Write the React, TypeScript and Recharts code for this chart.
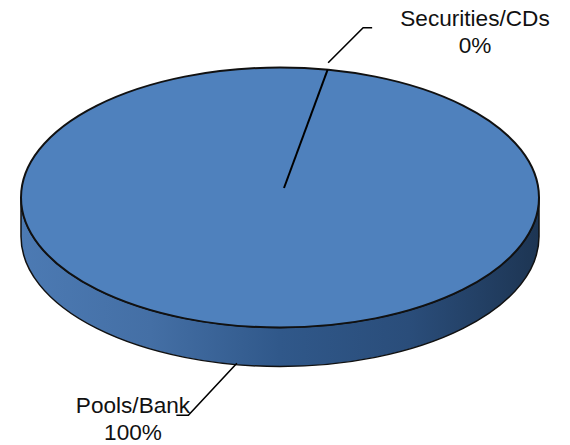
import React from 'react';
import { PieChart, Pie } from 'recharts';

const categories = ['Pools/Bank', 'Securities/CDs'];
const shares = [100, 0];

const chartData = categories.map((name, i) => ({ name, value: shares[i] }));

// Tilted disc: the pie's circle is squashed into this ellipse
const RADIUS_X = 259;
const RADIUS_Y = 130;
const SQUASH = RADIUS_Y / RADIUS_X;
const DEPTH = 39;
// Perspective moves the visual apex away from the ellipse centre
const APEX_DX = 4;
const APEX_DY = -9.5;

const FONT = '"Liberation Sans", Arial, sans-serif';

const rad = (deg: number) => (deg * Math.PI) / 180;

const rimPoint = (cx: number, cy: number, angle: number) => ({
  x: cx + RADIUS_X * Math.cos(rad(angle)),
  y: cy - RADIUS_Y * Math.sin(rad(angle)),
});

const DiscSector = (props: any) => {
  const { cx, cy, startAngle, endAngle, fill } = props;
  // A zero share has no area, only its edge line
  if (Math.abs(endAngle - startAngle) < 0.01) {
    const rim = rimPoint(cx, cy, startAngle);
    return (
      <line
        x1={cx + APEX_DX}
        y1={cy + APEX_DY}
        x2={rim.x}
        y2={rim.y}
        stroke="#000"
        strokeWidth={2}
      />
    );
  }
  const left = cx - RADIUS_X;
  const right = cx + RADIUS_X;
  const wall = `M${left},${cy} L${left},${cy + DEPTH} A${RADIUS_X},${RADIUS_Y} 0 0 0 ${right},${cy + DEPTH} L${right},${cy} A${RADIUS_X},${RADIUS_Y} 0 0 1 ${left},${cy} Z`;
  return (
    <g>
      <path d={wall} fill="url(#discWall)" stroke="#111" strokeWidth={1.5} />
      <ellipse cx={cx} cy={cy} rx={RADIUS_X} ry={SQUASH * RADIUS_X} fill={fill} stroke="#111" strokeWidth={2} />
    </g>
  );
};

const labelSpots: Record<string, { x: number; y: number }> = {
  'Pools/Bank': { x: 133, y: 412.5 },
  'Securities/CDs': { x: 475, y: 25.5 },
};

const SliceLabel = (props: any) => {
  const { name, value } = props;
  const spot = labelSpots[name];
  return (
    <text textAnchor="middle" fontFamily={FONT} fontSize={22.6} fill="#111">
      <tspan x={spot.x} y={spot.y}>{name}</tspan>
      <tspan x={spot.x} y={spot.y + 27}>{value}%</tspan>
    </text>
  );
};

const leaderOffsets: Record<string, number[][]> = {
  'Pools/Bank': [[4.5, 38], [-44, 90], [-56, 90]],
  'Securities/CDs': [[0.5, -7], [35.5, -42], [44.5, -42]],
};

const LeaderLine = (props: any) => {
  const { cx, cy, midAngle, name } = props;
  const rim = rimPoint(cx, cy, midAngle);
  const points = leaderOffsets[name].map(([dx, dy]) => `${rim.x + dx},${rim.y + dy}`).join(' ');
  return <polyline points={points} fill="none" stroke="#000" strokeWidth={1.6} />;
};

export default function App() {
  return (
    <div style={{ position: 'absolute', left: 0, top: 0, width: 570, height: 445, background: '#fff' }}>
      <PieChart width={570} height={445} margin={{ top: 0, right: 0, bottom: 0, left: 0 }}>
        <defs>
          <linearGradient id="discWall" x1="0" y1="0" x2="1" y2="0">
            <stop offset="0%" stopColor="#4c7ab3" />
            <stop offset="25%" stopColor="#446fa5" />
            <stop offset="50%" stopColor="#30588a" />
            <stop offset="75%" stopColor="#2a4d7a" />
            <stop offset="100%" stopColor="#1d3553" />
          </linearGradient>
        </defs>
        <Pie
          data={chartData}
          dataKey="value"
          nameKey="name"
          cx={280}
          cy={197.5}
          innerRadius={0}
          outerRadius={RADIUS_X}
          startAngle={79.4}
          endAngle={-280.6}
          fill="#4f81bd"
          shape={DiscSector}
          label={SliceLabel}
          labelLine={LeaderLine}
          isAnimationActive={false}
        />
      </PieChart>
    </div>
  );
}
